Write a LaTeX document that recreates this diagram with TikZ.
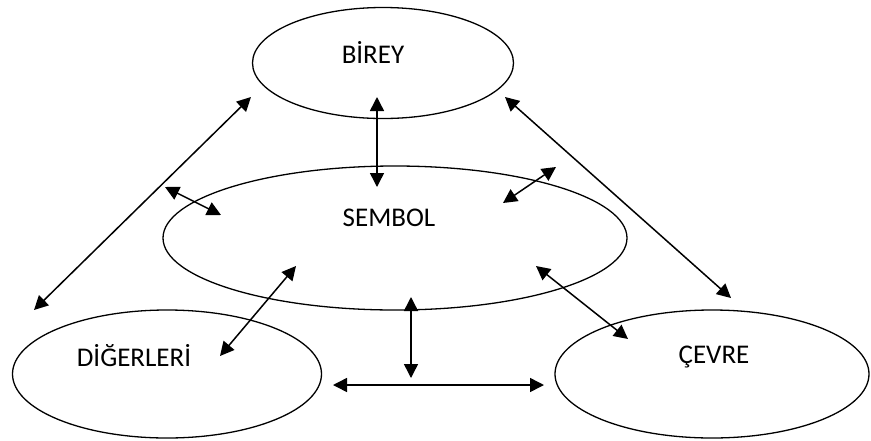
\documentclass[tikz,border=0pt]{standalone}
\usepackage{fontspec}
\setmainfont{Carlito}
\usetikzlibrary{shapes.geometric,arrows.meta}
\begin{document}
\begin{tikzpicture}[x=1pt,y=-1pt,
  oval/.style={draw,ellipse,line width=1.3pt,inner sep=0pt},
  lbl/.style={font=\fontsize{27}{32}\selectfont,inner sep=0pt,anchor=center},
  link/.style={line width=1.5pt,{Triangle[length=14pt,width=14pt]}-{Triangle[length=14pt,width=14pt]}}]
\useasboundingbox (0,0) rectangle (871,440);
% ellipses
\node[oval,minimum width=261pt,minimum height=111pt] (birey) at (383,63) {};
\node[oval,minimum width=464pt,minimum height=144pt] (sembol) at (395,238) {};
\node[oval,minimum width=309pt,minimum height=128pt] (diger) at (167,374) {};
\node[oval,minimum width=314pt,minimum height=128pt] (cevre) at (712,374) {};
% labels
\node[lbl] (bireyt) at (373,52) {BİREY};
\node[lbl] (sembolt) at (389,218) {SEMBOL};
\node[lbl] (digert) at (134,356) {DİĞERLERİ};
\node[lbl] (cevret) at (714,357) {ÇEVRE};
% arrow ends
\coordinate (a1) at (377,97);  \coordinate (b1) at (377,187);
\coordinate (a2) at (251,97);  \coordinate (b2) at (34,310);
\coordinate (a3) at (505,97);  \coordinate (b3) at (731,298);
\coordinate (a4) at (165,187); \coordinate (b4) at (221,215);
\coordinate (a5) at (556,167); \coordinate (b5) at (503,203);
\coordinate (a6) at (296,266); \coordinate (b6) at (220,356);
\coordinate (a7) at (536,266); \coordinate (b7) at (628,339);
\coordinate (a8) at (411,297); \coordinate (b8) at (411,378);
\coordinate (a9) at (333,385); \coordinate (b9) at (544,385);
% arrows
\foreach \i in {1,...,9} \draw[link] (a\i) -- (b\i);
\end{tikzpicture}
\end{document}
